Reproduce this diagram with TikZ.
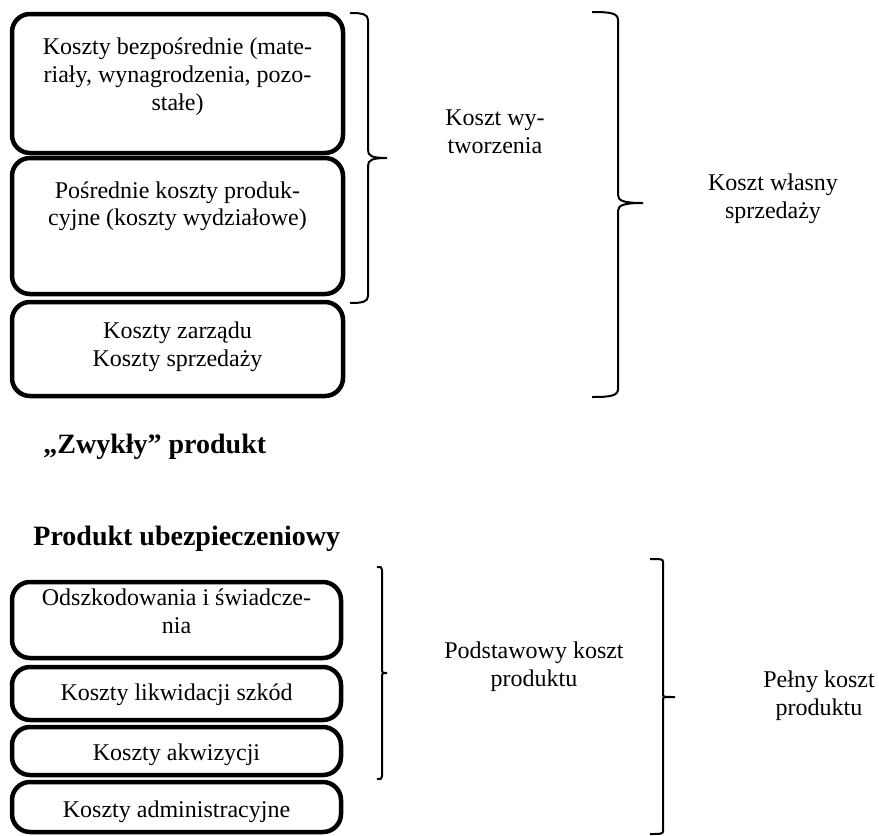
\documentclass[tikz,border=0pt]{standalone}
\usepackage{fontspec}
\setmainfont{Liberation Serif}
\begin{document}
\begin{tikzpicture}[x=0.5pt,y=-0.5pt,
  box/.style={draw, line width=2.25pt, rounded corners=9pt, inner sep=0pt, outer sep=0pt},
  txt/.style={align=center, inner sep=0pt, anchor=base, font=\fontsize{12}{13.8}\selectfont},
  head/.style={inner sep=0pt, anchor=base west, font=\fontsize{14}{16}\selectfont\bfseries},
  brace/.style={line width=1pt}]
\useasboundingbox (0,0) rectangle (879,836);
% top boxes
\node[box, minimum width=165.5pt, minimum height=69.5pt] (b1) at (177.5,83.5) {};
\node[box, minimum width=165.5pt, minimum height=68pt] (b2) at (177.5,226) {};
\node[box, minimum width=165.5pt, minimum height=47pt] (b3) at (177.5,349) {};
\node[txt] (t1) at (177.5,110) {Koszty bezpośrednie (mate-\\riały, wynagrodzenia, pozo-\\stałe)};
\node[txt] (t2) at (177.5,225.6) {Pośrednie koszty produk-\\cyjne (koszty wydziałowe)};
\node[txt] (t3) at (177.5,366) {Koszty zarządu\\Koszty sprzedaży};
% top braces
\draw[brace] (350,13) .. controls (362,13) and (368,14) .. (368,20) -- (368,150)
  .. controls (368,156) and (372,158) .. (387,158)
  .. controls (372,158) and (368,160) .. (368,166) -- (368,296)
  .. controls (368,302) and (362,303) .. (350,303);
\draw[brace] (592,12) .. controls (610,12) and (618,13) .. (618,20) -- (618,195)
  .. controls (618,201) and (624,203) .. (643,203)
  .. controls (624,203) and (618,205) .. (618,211) -- (618,389)
  .. controls (618,396) and (610,397) .. (592,397);
\node[txt] (l1) at (495,153) {Koszt wy-\\tworzenia};
\node[txt] (l2) at (773,218) {Koszt własny\\sprzedaży};
% headings
\node[head] (h1) at (43,453) {„Zwykły” produkt};
\node[head] (h2) at (33,545) {Produkt ubezpieczeniowy};
% bottom boxes
\node[box, minimum width=164.5pt, minimum height=38pt] (a) at (176.5,620) {};
\node[box, minimum width=164.5pt, minimum height=26.5pt] (b) at (176.5,693.5) {};
\node[box, minimum width=164.5pt, minimum height=24pt] (c) at (176.5,751) {};
\node[box, minimum width=164.5pt, minimum height=25pt] (d) at (176.5,807) {};
\node[txt] (ta) at (176.5,633) {Odszkodowania i świadcze-\\nia};
\node[txt] (tb) at (176.5,700) {Koszty likwidacji szkód};
\node[txt] (tc) at (176.5,760) {Koszty akwizycji};
\node[txt] (td) at (176.5,817) {Koszty administracyjne};
% bottom braces
\draw[brace] (377,567) .. controls (381,567) and (382,567) .. (382,570) -- (382,671)
  .. controls (382,673) and (383,673) .. (387,673)
  .. controls (383,673) and (382,673) .. (382,675) -- (382,776)
  .. controls (382,779) and (381,779) .. (377,779);
\draw[brace] (650,559) .. controls (661,559) and (663,559) .. (663,562) -- (663,695)
  .. controls (663,697) and (665,697) .. (675,697)
  .. controls (665,697) and (663,697) .. (663,699) -- (663,831)
  .. controls (663,834) and (661,834) .. (650,834);
\node[txt] (l3) at (534,686) {Podstawowy koszt\\produktu};
\node[txt] (l4) at (819,715) {Pełny koszt\\produktu};
\end{tikzpicture}
\end{document}
